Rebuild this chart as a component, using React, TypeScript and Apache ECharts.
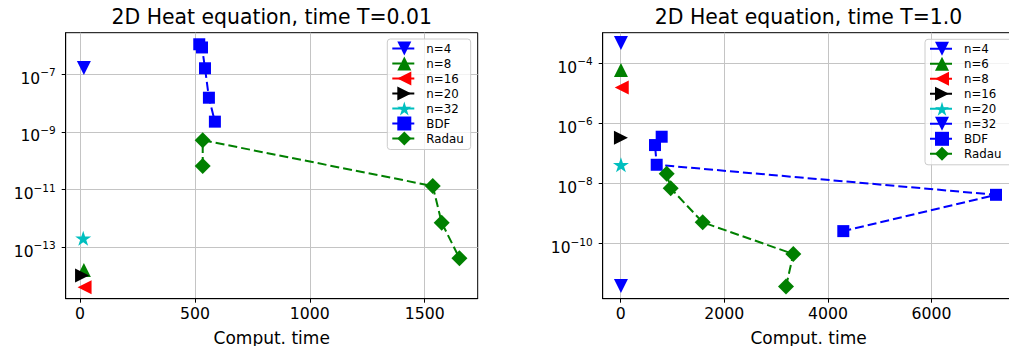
import React, { useEffect, useRef } from "react";
import * as echarts from "echarts";

const FONT = "'DejaVu Sans', sans-serif";

// ---------- Left panel: T = 0.01 ----------
const leftTitle = "2D Heat equation, time T=0.01";
const leftNNames = ["n=4", "n=8", "n=16", "n=20", "n=32"];
const leftNX = [17, 17, 20, 9, 14];
const leftNErr = [1.62e-7, 1.62e-14, 4.17e-15, 1.05e-14, 2.04e-13];
const leftNMarkers = ["down", "up", "left", "right", "star"];
const leftNColors = ["#0000ff", "#008000", "#ff0000", "#000000", "#00bfbf"];
const leftBdfX = [519, 531, 544, 561, 587];
const leftBdfErr = [1.07e-6, 8.3e-7, 1.58e-7, 1.51e-8, 2.24e-9];
const leftRadauX = [534, 534, 1535, 1574, 1651];
const leftRadauErr = [6.5e-11, 5.1e-10, 1.32e-11, 7.1e-13, 4.2e-14];
const leftXTicks = [0, 500, 1000, 1500];
const leftYTicks = [1e-13, 1e-11, 1e-9, 1e-7];

// ---------- Right panel: T = 1.0 ----------
const rightTitle = "2D Heat equation, time T=1.0";
const rightNNames = ["n=4", "n=6", "n=8", "n=16", "n=20", "n=32"];
const rightNX = [5, 5, 20, 5, 5, 5];
const rightNErr = [4.7e-4, 6.0e-5, 1.55e-5, 3.3e-7, 4.2e-8, 3.9e-12];
const rightNMarkers = ["down", "up", "left", "right", "star", "down"];
const rightNColors = ["#0000ff", "#008000", "#ff0000", "#000000", "#00bfbf", "#0000ff"];
const rightBdfX = [791, 662, 695, 7245, 4297];
const rightBdfErr = [3.6e-7, 1.9e-7, 4.2e-8, 4.2e-9, 2.6e-10];
const rightRadauX = [888, 965, 1583, 3332, 3191];
const rightRadauErr = [2.1e-8, 6.9e-9, 5.1e-10, 4.5e-11, 3.7e-12];
const rightXTicks = [0, 2000, 4000, 6000];
const rightYTicks = [1e-10, 1e-8, 1e-6, 1e-4];

const xLabel = "Comput. time";

const STAR =
  "path://M0,-1L0.2245,-0.309L0.951,-0.309L0.363,0.118L0.588,0.809L0,0.382L-0.588,0.809L-0.363,0.118L-0.951,-0.309L-0.2245,-0.309Z";

const MARKERS: Record<string, { symbol: string; rotate: number; size: any }> = {
  down: { symbol: "triangle", rotate: 180, size: 14 },
  up: { symbol: "triangle", rotate: 0, size: 14 },
  left: { symbol: "triangle", rotate: 90, size: 14 },
  right: { symbol: "triangle", rotate: -90, size: 14 },
  star: { symbol: STAR, rotate: 0, size: [16, 15] },
  square: { symbol: "rect", rotate: 0, size: 12 },
  diamond: { symbol: "diamond", rotate: 0, size: 16 },
};

function makeSeries(name: string, xs: number[], errs: number[], marker: string, color: string) {
  const m = MARKERS[marker];
  return {
    type: "line",
    name,
    data: xs.map((x, i) => [x, Math.log10(errs[i])]),
    symbol: m.symbol,
    symbolRotate: m.rotate,
    symbolSize: m.size,
    showSymbol: true,
    showAllSymbol: true,
    clip: false,
    silent: true,
    itemStyle: { color, opacity: 1 },
    lineStyle: { color, width: 2, type: [9, 4] },
    emphasis: { disabled: true },
  };
}

type Cfg = {
  title: string;
  titleX: number;
  nNames: string[];
  nX: number[];
  nErr: number[];
  nMarkers: string[];
  nColors: string[];
  bdfX: number[];
  bdfErr: number[];
  radauX: number[];
  radauErr: number[];
  xTicks: number[];
  yTicks: number[];
  grid: { left: number; top: number; width: number; height: number };
  xRange: [number, number];
  yRange: [number, number];
  legend: { left: number; top: number; padRight: number };
};

function buildOption(c: Cfg) {
  const series: any[] = [];
  c.nNames.forEach((nm, i) =>
    series.push(makeSeries(nm, [c.nX[i]], [c.nErr[i]], c.nMarkers[i], c.nColors[i]))
  );
  series.push(makeSeries("BDF", c.bdfX, c.bdfErr, "square", "#0000ff"));
  series.push(makeSeries("Radau", c.radauX, c.radauErr, "diamond", "#008000"));
  const yTickLogs = c.yTicks.map((v) => Math.round(Math.log10(v)));
  return {
    animation: false,
    graphic: [
      {
        type: "text",
        x: c.titleX,
        y: 17,
        style: {
          text: c.title,
          fill: "#000",
          fontSize: 20.4,
          fontFamily: FONT,
          textAlign: "center",
          textVerticalAlign: "middle",
          align: "center",
          verticalAlign: "middle",
        },
      },
    ],
    grid: {
      ...c.grid,
      containLabel: false,
      outerBoundsMode: "none",
      show: true,
      borderColor: "#000",
      borderWidth: 1,
      backgroundColor: "transparent",
    },
    legend: {
      orient: "vertical",
      left: c.legend.left,
      top: c.legend.top,
      itemWidth: 24,
      itemHeight: 17.5,
      itemGap: 1.0,
      padding: [2.5, c.legend.padRight, 4, 4],
      backgroundColor: "rgba(255,255,255,0.8)",
      borderColor: "#cccccc",
      borderWidth: 1,
      borderRadius: 3,
      selectedMode: false,
      formatter: (name: string) => `{t|${name}}`,
      textStyle: {
        fontSize: 11.8,
        fontFamily: FONT,
        color: "#000",
        rich: { t: { fontSize: 11.8, fontFamily: FONT, color: "#000", padding: [0, 0, 0, 5] } },
      },
      data: [...c.nNames, "BDF", "Radau"],
    },
    xAxis: {
      type: "value",
      min: c.xRange[0],
      max: c.xRange[1],
      name: xLabel,
      nameLocation: "middle",
      nameGap: 31,
      nameTextStyle: { fontSize: 17, fontFamily: FONT, color: "#000" },
      axisLine: { show: true, onZero: false, lineStyle: { color: "#000", width: 1 } },
      axisTick: { show: true, length: 4, customValues: c.xTicks, lineStyle: { color: "#000" } },
      axisLabel: {
        customValues: c.xTicks,
        margin: 7,
        fontSize: 15.7,
        fontFamily: FONT,
        color: "#000",
        formatter: (v: number) => String(v),
      },
      splitLine: { show: true, lineStyle: { color: "#c4c4c4", width: 1 } },
    },
    yAxis: {
      type: "value",
      min: c.yRange[0],
      max: c.yRange[1],
      axisLine: { show: true, onZero: false, lineStyle: { color: "#000", width: 1 } },
      axisTick: { show: true, length: 4, customValues: yTickLogs, lineStyle: { color: "#000" } },
      axisLabel: {
        customValues: yTickLogs,
        margin: 10,
        padding: [5, 0, 0, 0],
        formatter: (v: number) => `{b|10}{s|\u2212${Math.round(-v)}}`,
        rich: {
          b: { fontSize: 15.5, fontFamily: FONT, color: "#000", lineHeight: 20, verticalAlign: "bottom" },
          s: { fontSize: 10.5, fontFamily: FONT, color: "#000", lineHeight: 12, verticalAlign: "top" },
        },
      },
      splitLine: { show: true, lineStyle: { color: "#c4c4c4", width: 1 } },
    },
    series,
  };
}

const leftCfg: Cfg = {
  title: leftTitle,
  titleX: 271.7,
  nNames: leftNNames,
  nX: leftNX,
  nErr: leftNErr,
  nMarkers: leftNMarkers,
  nColors: leftNColors,
  bdfX: leftBdfX,
  bdfErr: leftBdfErr,
  radauX: leftRadauX,
  radauErr: leftRadauErr,
  xTicks: leftXTicks,
  yTicks: leftYTicks,
  grid: { left: 65.7, top: 32.7, width: 412, height: 266 },
  xRange: [-62.2, 1730.6],
  yRange: [-14.78, -5.57],
  legend: { left: 387.3, top: 39, padRight: 7 },
};

const rightCfg: Cfg = {
  title: rightTitle,
  titleX: 303.5,
  nNames: rightNNames,
  nX: rightNX,
  nErr: rightNErr,
  nMarkers: rightNMarkers,
  nColors: rightNColors,
  bdfX: rightBdfX,
  bdfErr: rightBdfErr,
  radauX: rightRadauX,
  radauErr: rightRadauErr,
  xTicks: rightXTicks,
  yTicks: rightYTicks,
  grid: { left: 97.7, top: 32.7, width: 411.7, height: 266 },
  xRange: [-347.5, 7600],
  yRange: [-11.834, -2.982],
  legend: { left: 420, top: 39.3, padRight: 16 },
};

function Panel({ cfg, left, width }: { cfg: Cfg; left: number; width: number }) {
  const ref = useRef<HTMLDivElement>(null);
  useEffect(() => {
    const chart = echarts.init(ref.current!, null, { renderer: "svg" });
    chart.setOption(buildOption(cfg) as any);
    return () => chart.dispose();
  }, [cfg]);
  return (
    <div
      ref={ref}
      style={{ position: "absolute", left, top: 0, width, height: 346, overflow: "hidden" }}
    />
  );
}

export default function App() {
  return (
    <div
      style={{
        position: "fixed",
        left: 0,
        top: 0,
        width: 1009,
        height: 346,
        background: "#fff",
        overflow: "hidden",
      }}
    >
      <Panel cfg={leftCfg} left={0} width={505} />
      <Panel cfg={rightCfg} left={505} width={504} />
    </div>
  );
}
